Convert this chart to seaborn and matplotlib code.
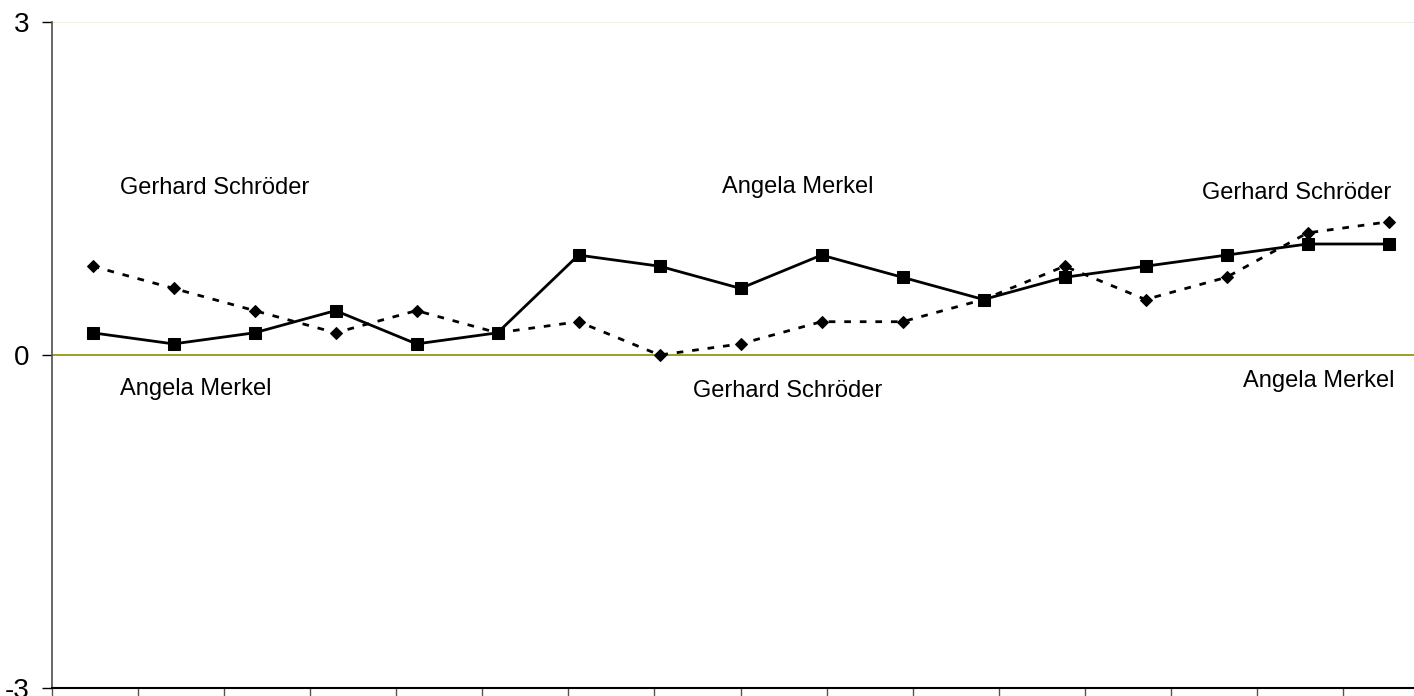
#!/usr/bin/env python3
import numpy as np
import pandas as pd
import matplotlib
matplotlib.use("Agg")
import matplotlib.pyplot as plt
import seaborn as sns

# survey waves (17 measurements)
waves = list(range(1, 18))
merkel = [0.2, 0.1, 0.2, 0.4, 0.1, 0.2, 0.9, 0.8, 0.6, 0.9, 0.7, 0.5, 0.7, 0.8, 0.9, 1.0, 1.0]
schroeder = [0.8, 0.6, 0.4, 0.2, 0.4, 0.2, 0.3, 0.0, 0.1, 0.3, 0.3, 0.5, 0.8, 0.5, 0.7, 1.1, 1.2]
y_ticks = [-3, 0, 3]

sns.set_theme(style="white")
plt.rcParams['font.family'] = ['Liberation Sans', 'DejaVu Sans']
plt.rcParams['axes.unicode_minus'] = False
plt.rcParams['text.color'] = 'black'
plt.rcParams['ytick.labelcolor'] = 'black'

df = pd.DataFrame({'pos': np.arange(len(waves)), 'merkel': merkel, 'schroeder': schroeder})

fig = plt.figure(figsize=(14.14, 6.96), dpi=100)
# plot area runs a little past the right edge of the picture, as in the original
ax = fig.add_axes([52 / 1414, 8 / 696, 1377 / 1414, 666 / 696])

ax.axhline(0, color='#8c8c00', lw=1.2, zorder=1)
ax.axhline(3, color='#eeeedd', lw=1.2, zorder=1)

sns.lineplot(data=df, x='pos', y='merkel', ax=ax, color='black', lw=2,
             marker='s', markersize=8.5, markeredgecolor='black', zorder=3)
sns.lineplot(data=df, x='pos', y='schroeder', ax=ax, color='black', lw=2,
             linestyle=(0, (2.4, 3.2)), marker='D', markersize=6.5,
             markeredgecolor='black', zorder=3)

n = len(waves)
ax.set_xlim(-0.5, n - 0.5)
ax.set_ylim(-3, 3)
ax.set_xticks(np.linspace(-0.5, n - 0.5, n))
ax.set_xticklabels([])
ax.set_yticks(y_ticks)
ax.set_yticklabels([str(t) for t in y_ticks], fontsize=20)
ax.set_xlabel('')
ax.set_ylabel('')

ax.tick_params(axis='x', direction='out', length=7, width=1, color='#555555', bottom=True)
ax.tick_params(axis='y', direction='out', length=7, width=1, color='black', left=True, pad=9)

for side in ['top', 'right']:
    ax.spines[side].set_visible(False)
ax.spines['left'].set_color('#555555')
ax.spines['bottom'].set_color('black')
ax.spines['bottom'].set_linewidth(1.5)

fs = 17
ax.text(0.34, 1.50, 'Gerhard Schröder', fontsize=fs, ha='left', va='center')
ax.text(0.34, -0.31, 'Angela Merkel', fontsize=fs, ha='left', va='center')
ax.text(7.77, 1.51, 'Angela Merkel', fontsize=fs, ha='left', va='center')
ax.text(7.41, -0.32, 'Gerhard Schröder', fontsize=fs, ha='left', va='center')
ax.text(16.03, 1.46, 'Gerhard Schröder', fontsize=fs, ha='right', va='center')
ax.text(16.08, -0.23, 'Angela Merkel', fontsize=fs, ha='right', va='center')

fig.savefig('out.png', dpi=100)
